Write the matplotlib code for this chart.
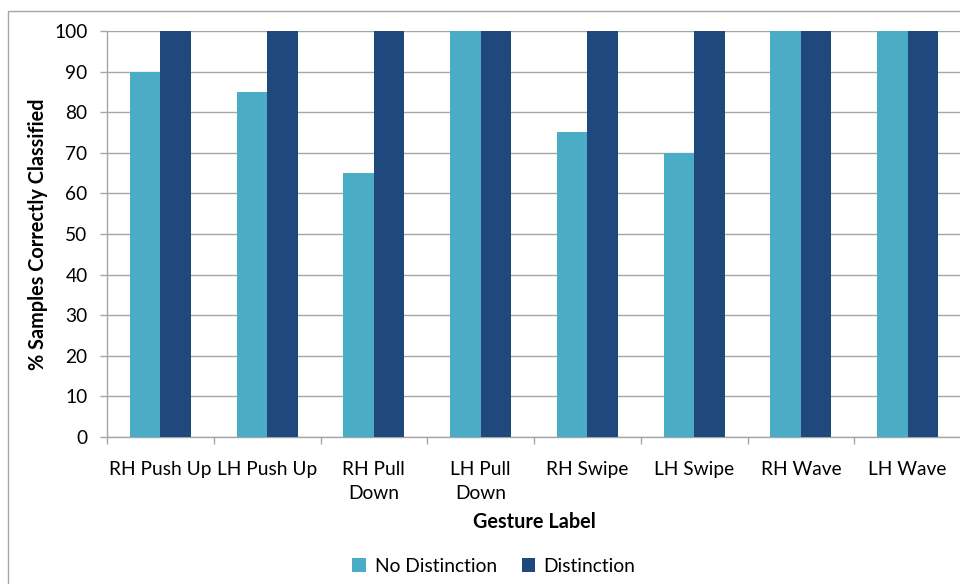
import matplotlib
matplotlib.use("Agg")
import matplotlib.pyplot as plt
import numpy as np
from matplotlib.patches import Rectangle

categories = ["RH Push Up", "LH Push Up", "RH Pull\nDown", "LH Pull\nDown",
              "RH Swipe", "LH Swipe", "RH Wave", "LH Wave"]
no_distinction = [90, 85, 65, 100, 75, 70, 100, 100]
distinction = [100, 100, 100, 100, 100, 100, 100, 100]
series_names = ["No Distinction", "Distinction"]
y_ticks = [0, 10, 20, 30, 40, 50, 60, 70, 80, 90, 100]

plt.rcParams["font.family"] = ["Lato", "DejaVu Sans"]

W, H = 960, 584
fig = plt.figure(figsize=(W / 100, H / 100), dpi=100)
fig.patch.set_facecolor("white")

# chart-area border
fig.add_artist(Rectangle((8 / W, -0.5), 2.0, 1.5 - 11 / H, transform=fig.transFigure,
                         fill=False, edgecolor="#A6A6A6", linewidth=1.0))

left, right, top, bottom = 107 / W, 961 / W, 1 - 31 / H, 1 - 437 / H
ax = fig.add_axes([left, bottom, right - left, top - bottom])

x = np.arange(len(categories))
bw = 0.285
light = "#4BACC6"
dark = "#1F497D"
ax.bar(x - bw / 2, no_distinction, width=bw, color=light, label=series_names[0], zorder=3)
ax.bar(x + bw / 2, distinction, width=bw, color=dark, label=series_names[1], zorder=3)

fs = 13.8
ax.set_xlim(-0.5, len(categories) - 0.5)
ax.set_ylim(0, 100)
ax.set_yticks(y_ticks)
ax.set_yticklabels([str(v) for v in y_ticks], fontsize=fs, color="#000000")
ax.yaxis.grid(True, color="#A6A6A6", linewidth=1.0, zorder=0)
ax.set_axisbelow(True)

# category boundary ticks with labels at centres
ax.set_xticks(np.arange(len(categories) + 1) - 0.5)
ax.set_xticklabels([])
ax.set_xticks(x, minor=True)
ax.set_xticklabels(categories, minor=True, fontsize=fs, linespacing=1.55)
ax.tick_params(axis="x", which="minor", length=0, pad=17)
ax.tick_params(axis="x", which="major", length=5, color="#A6A6A6", width=1)
ax.tick_params(axis="y", length=5, color="#A6A6A6", width=1, pad=9)

for side in ["top", "right"]:
    ax.spines[side].set_visible(False)
for side in ["left", "bottom"]:
    ax.spines[side].set_color("#A6A6A6")
    ax.spines[side].set_linewidth(1.0)

fig.text(534 / W, 1 - 522 / H, "Gesture Label", ha="center", va="center",
         fontsize=14.3, fontweight="bold")
fig.text(38 / W, 1 - 234 / H, "% Samples Correctly Classified", ha="center", va="center",
         rotation=90, fontsize=14.3, fontweight="bold")

leg = fig.legend(loc="center", bbox_to_anchor=(494 / W, 1 - 566 / H), ncol=2, frameon=False,
                 fontsize=fs, handlelength=0.7, handleheight=0.7, handletextpad=0.45,
                 columnspacing=1.3)

fig.savefig("out.png", dpi=100)
